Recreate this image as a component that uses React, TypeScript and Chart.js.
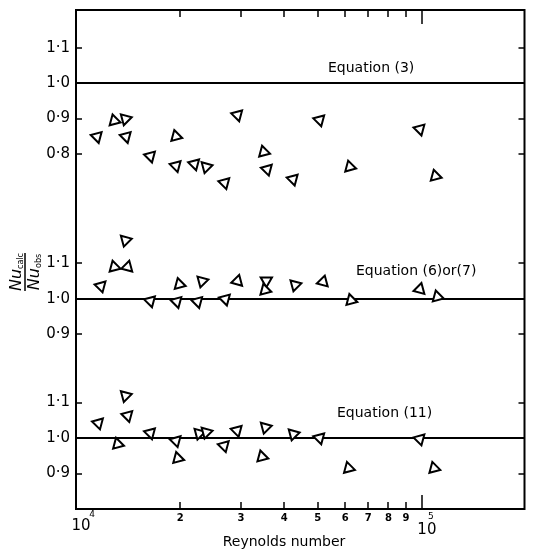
import React, { useEffect, useRef } from 'react';
import { Chart, registerables } from 'chart.js';

Chart.register(...registerables);

// ---- Data (Reynolds number, Nu_calc/Nu_obs) ----
const re3 = [11500, 12900, 13900, 13950, 16400, 19450, 19450, 22000, 23800, 26900, 29300, 34900, 35700, 42400, 50600, 61900, 98600, 109400];
const nu3 = [0.849, 0.894, 0.899, 0.849, 0.794, 0.850, 0.767, 0.772, 0.764, 0.719, 0.910, 0.806, 0.757, 0.729, 0.896, 0.764, 0.870, 0.738];

const re6 = [11800, 12900, 14100, 13900, 16400, 19900, 19550, 23150, 22450, 29300, 27000, 35500, 35200, 43000, 51800, 62400, 98600, 110900];
const nu6 = [1.036, 1.090, 1.090, 1.165, 0.994, 1.041, 0.992, 1.050, 0.992, 1.050, 0.999, 1.051, 1.025, 1.039, 1.048, 0.996, 1.027, 1.006];

const re11 = [11600, 13900, 14100, 13200, 16400, 19450, 19700, 22700, 23800, 26800, 29200, 35300, 34500, 42500, 50600, 61400, 98600, 108400];
const nu11 = [1.042, 1.119, 1.063, 0.983, 1.014, 0.992, 0.943, 1.013, 1.016, 0.978, 1.021, 1.030, 0.947, 1.011, 1.000, 0.915, 0.997, 0.915];

// triangle orientations (hand-drawn markers)
const rot3 = [165, -15, 195, 165, 165, -15, 165, 165, 195, 165, 165, -15, 165, 165, 165, -15, 165, -15];
const rot6 = [165, -15, 15, 195, 165, -15, 165, 195, 165, 15, 165, 180, -15, 195, 15, -15, 15, -15];
const rot11 = [165, 195, 165, -15, 165, 165, -15, 195, 195, 165, 165, 195, -15, 195, 165, -15, 165, -15];

const panelLabels = ['Equation (3)', 'Equation (6)or(7)', 'Equation (11)'];
const topTicks = [1.1, 1.0, 0.9, 0.8];
const midTicks = [1.1, 1.0, 0.9];
const botTicks = [1.1, 1.0, 0.9];
const xMinorTicks = [20000, 30000, 40000, 50000, 60000, 70000, 80000, 90000];
const xMinorLabels = ['2', '3', '4', '5', '6', '7', '8', '9'];
const xDecades = [10000, 100000];
const xDecadeExp = ['4', '5'];

// vertical placement of the three stacked panels on one axis
const OFFSETS = [0, 0.608, 1.0];
const FONT = '"DejaVu Sans", sans-serif';

const fmt = (v: number) => v.toFixed(1).replace('.', '\u00B7');

const yTickList: { v: number; label: string }[] = [
  ...topTicks.map((t) => ({ v: t - OFFSETS[0], label: fmt(t) })),
  ...midTicks.map((t) => ({ v: t - OFFSETS[1], label: fmt(t) })),
  ...botTicks.map((t) => ({ v: t - OFFSETS[2], label: fmt(t) })),
];

const toPts = (re: number[], nu: number[], off: number) => re.map((r, i) => ({ x: r, y: nu[i] - off }));

const overlay = {
  id: 'overlay',
  beforeDatasetsDraw(chart: any) {
    const { ctx, chartArea: a, scales } = chart;
    const ys = scales.y;
    ctx.save();
    ctx.strokeStyle = '#000';
    ctx.lineWidth = 2;
    OFFSETS.forEach((off) => {
      const y = Math.round(ys.getPixelForValue(1.0 - off));
      ctx.beginPath();
      ctx.moveTo(a.left, y);
      ctx.lineTo(a.right, y);
      ctx.stroke();
    });
    ctx.restore();
  },
  afterDraw(chart: any) {
    const { ctx, chartArea: a, scales } = chart;
    const xs = scales.x;
    const ys = scales.y;
    ctx.save();
    ctx.strokeStyle = '#000';
    ctx.fillStyle = '#000';
    ctx.lineWidth = 2;
    ctx.strokeRect(a.left, a.top, a.right - a.left, a.bottom - a.top);
    ctx.lineWidth = 1.5;
    yTickList.forEach((t) => {
      const y = Math.round(ys.getPixelForValue(t.v));
      ctx.beginPath();
      ctx.moveTo(a.left, y);
      ctx.lineTo(a.left + 6, y);
      ctx.moveTo(a.right, y);
      ctx.lineTo(a.right - 6, y);
      ctx.stroke();
    });
    xMinorTicks.forEach((v) => {
      const x = Math.round(xs.getPixelForValue(v));
      ctx.beginPath();
      ctx.moveTo(x, a.bottom);
      ctx.lineTo(x, a.bottom - 7);
      ctx.moveTo(x, a.top);
      ctx.lineTo(x, a.top + 7);
      ctx.stroke();
    });
    xDecades.forEach((v) => {
      const x = Math.round(xs.getPixelForValue(v));
      ctx.beginPath();
      ctx.moveTo(x, a.bottom);
      ctx.lineTo(x, a.bottom - 14);
      ctx.moveTo(x, a.top);
      ctx.lineTo(x, a.top + 14);
      ctx.stroke();
    });
    ctx.textAlign = 'center';
    ctx.textBaseline = 'middle';
    xDecades.forEach((v, i) => {
      const x = xs.getPixelForValue(v);
      const dy = i === 0 ? 0 : 4;
      ctx.font = `15px ${FONT}`;
      ctx.fillText('10', x + 5, 526 + dy);
      ctx.font = `9px ${FONT}`;
      ctx.fillText(xDecadeExp[i], x + (i === 0 ? 16 : 9), 515 + (i === 0 ? 0 : 2));
    });
    ctx.font = `14px ${FONT}`;
    ctx.fillText('Reynolds number', 284, 542);
    ctx.textAlign = 'left';
    ctx.font = `14px ${FONT}`;
    const labelPos = [
      [328, 68],
      [356, 271],
      [337, 413],
    ];
    panelLabels.forEach((t, i) => {
      ctx.fillText(t, labelPos[i][0], labelPos[i][1]);
    });
    ctx.translate(25, 272);
    ctx.rotate(-Math.PI / 2);
    const drawNu = (sub: string, baseY: number) => {
      ctx.font = `italic 16px ${FONT}`;
      const w1 = ctx.measureText('Nu').width;
      ctx.font = `8px ${FONT}`;
      const w2 = ctx.measureText(sub).width;
      const x0 = -(w1 + w2) / 2;
      ctx.textAlign = 'left';
      ctx.textBaseline = 'alphabetic';
      ctx.font = `italic 16px ${FONT}`;
      ctx.fillText('Nu', x0, baseY);
      ctx.font = `8px ${FONT}`;
      ctx.fillText(sub, x0 + w1, baseY + 2);
    };
    drawNu('calc', -4);
    drawNu('obs', 14);
    ctx.lineWidth = 1.5;
    ctx.beginPath();
    ctx.moveTo(-19, 0);
    ctx.lineTo(19, 0);
    ctx.stroke();
    ctx.restore();
  },
};

export default function App() {
  const ref = useRef<HTMLCanvasElement | null>(null);
  useEffect(() => {
    if (!ref.current) return;
    document.body.style.margin = '0';
    document.body.style.overflow = 'hidden';
    const mk = (data: any[], rot: number[]) => ({
      data,
      showLine: false,
      pointStyle: 'triangle',
      pointRadius: 6.5,
      pointRotation: rot,
      pointBorderWidth: 2,
      pointBorderColor: '#000',
      pointBackgroundColor: '#fff',
    });
    const chart = new Chart(ref.current, {
      type: 'scatter',
      data: {
        datasets: [
          mk(toPts(re3, nu3, OFFSETS[0]), rot3),
          mk(toPts(re6, nu6, OFFSETS[1]), rot6),
          mk(toPts(re11, nu11, OFFSETS[2]), rot11),
        ],
      },
      options: {
        animation: false,
        responsive: false,
        maintainAspectRatio: false,
        devicePixelRatio: 1,
        layout: { padding: { top: 10, right: 2, left: 0, bottom: 0 } },
        plugins: { legend: { display: false }, tooltip: { enabled: false } },
        scales: {
          x: {
            type: 'logarithmic',
            min: 10000,
            max: 198000,
            grid: { display: false, drawTicks: false },
            border: { display: false },
            afterBuildTicks: (s: any) => {
              s.ticks = xMinorTicks.map((v) => ({ value: v }));
            },
            afterFit: (s: any) => {
              s.height = 42;
              s.paddingLeft = 0;
              s.paddingRight = 0;
            },
            ticks: {
              autoSkip: false,
              maxRotation: 0,
              padding: 3,
              color: '#000',
              font: { family: FONT, size: 10, weight: 'bold' },
              callback: (v: any) => {
                const i = xMinorTicks.indexOf(Number(v));
                return i >= 0 ? xMinorLabels[i] : '';
              },
            },
          },
          y: {
            type: 'linear',
            min: -0.2,
            max: 1.206,
            grid: { display: false, drawTicks: false },
            border: { display: false },
            afterBuildTicks: (s: any) => {
              s.ticks = yTickList.map((t) => ({ value: t.v }));
            },
            afterFit: (s: any) => {
              s.width = 76;
              s.paddingTop = 0;
              s.paddingBottom = 0;
            },
            ticks: {
              autoSkip: false,
              padding: 6,
              color: '#000',
              font: { family: FONT, size: 15 },
              callback: (_v: any, i: number) => (yTickList[i] ? yTickList[i].label : ''),
            },
          },
        },
      },
      plugins: [overlay],
    } as any);
    return () => chart.destroy();
  }, []);
  return (
    <div style={{ position: 'absolute', left: 0, top: 0, width: 533, height: 551, background: '#fff', overflow: 'hidden' }}>
      <canvas ref={ref} width={533} height={551} style={{ display: 'block', width: 533, height: 551 }} />
    </div>
  );
}
